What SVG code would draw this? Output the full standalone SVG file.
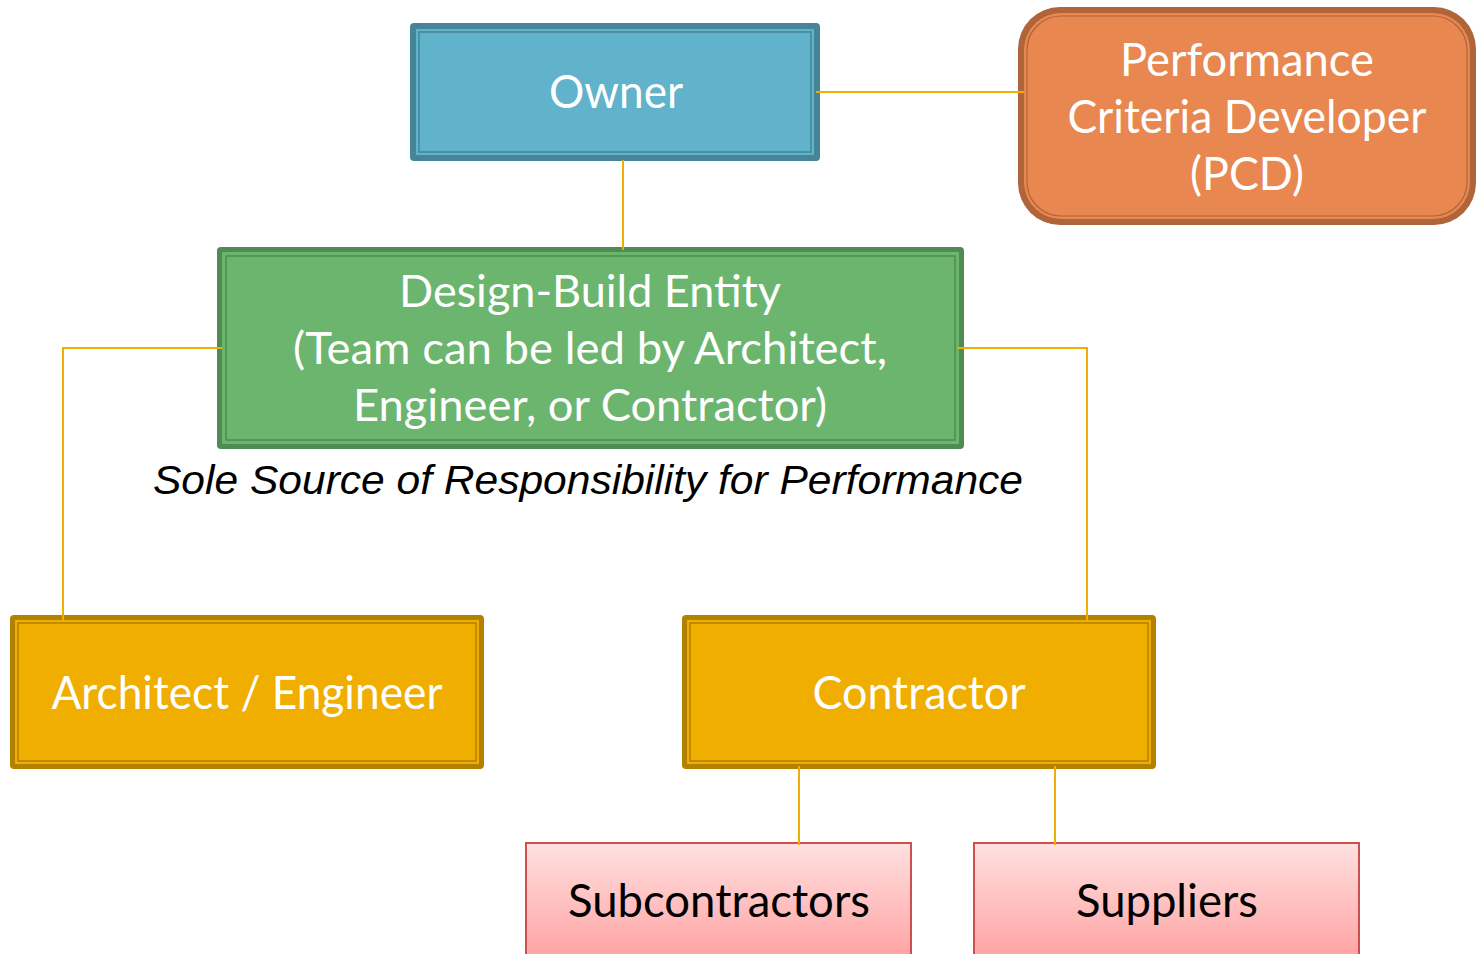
<svg xmlns="http://www.w3.org/2000/svg" width="1478" height="954" viewBox="0 0 1478 954">
<style>
.t{font-family:Lato,"Open Sans","Liberation Sans",sans-serif;fill:#fff;text-anchor:middle}
.k{font-family:Lato,"Open Sans","Liberation Sans",sans-serif;fill:#000;text-anchor:middle}
.c{fill:none;stroke:#EFAE00;stroke-width:2}
</style>
<defs>
<linearGradient id="pink" x1="0" y1="0" x2="0" y2="1">
<stop offset="0" stop-color="#FFE1E1"/>
<stop offset="1" stop-color="#FF9B9B"/>
</linearGradient>
</defs>
<rect width="1478" height="954" fill="#fff"/>
<g id="owner">
<rect x="410" y="23" width="410" height="138" rx="4" fill="#468597"/>
<rect x="416" y="29" width="398" height="126" fill="#61B3CC"/>
<rect x="419" y="32" width="392" height="120" fill="none" stroke="#468597" stroke-width="1.5"/>
<text class="t" x="616" y="108" font-size="46" textLength="134" lengthAdjust="spacingAndGlyphs">Owner</text>
</g>
<g id="pcd">
<rect x="1018" y="7" width="458" height="218" rx="42" fill="#B0643A"/>
<rect x="1024" y="13" width="446" height="206" rx="37" fill="#E8874F"/>
<rect x="1027" y="16" width="440" height="200" rx="34" fill="none" stroke="#B0643A" stroke-width="1.2"/>
<text class="t" x="1247" y="76" font-size="46" textLength="254" lengthAdjust="spacingAndGlyphs">Performance</text>
<text class="t" x="1247" y="133" font-size="46" textLength="359" lengthAdjust="spacingAndGlyphs">Criteria Developer</text>
<text class="t" x="1247" y="190" font-size="46" textLength="114" lengthAdjust="spacingAndGlyphs">(PCD)</text>
</g>
<g id="designbuild">
<rect x="217" y="247" width="747" height="202" rx="4" fill="#508B53"/>
<rect x="222" y="252" width="737" height="192" fill="#6BB56E"/>
<rect x="226" y="256" width="729" height="184" fill="none" stroke="#508B53" stroke-width="1.5"/>
<text class="t" x="590" y="307" font-size="44" textLength="382" lengthAdjust="spacingAndGlyphs">Design-Build Entity</text>
<text class="t" x="590" y="364" font-size="44" textLength="594" lengthAdjust="spacingAndGlyphs">(Team can be led by Architect,</text>
<text class="t" x="590" y="421" font-size="44" textLength="474" lengthAdjust="spacingAndGlyphs">Engineer, or Contractor)</text>
</g>
<g id="label">
<text x="588" y="494" font-family="'Liberation Sans',Arial,sans-serif" font-style="italic" font-size="40" text-anchor="middle" fill="#000" textLength="870" lengthAdjust="spacingAndGlyphs">Sole Source of Responsibility for Performance</text>
</g>
<g id="architect">
<rect x="10" y="615" width="474" height="154" rx="4" fill="#B38000"/>
<rect x="15" y="620" width="464" height="144" fill="#EFAE00"/>
<rect x="18" y="623" width="458" height="138" fill="none" stroke="#B38000" stroke-width="1.5"/>
<text class="t" x="247" y="709" font-size="46" textLength="391" lengthAdjust="spacingAndGlyphs">Architect / Engineer</text>
</g>
<g id="contractor">
<rect x="682" y="615" width="474" height="154" rx="4" fill="#B38000"/>
<rect x="687" y="620" width="464" height="144" fill="#EFAE00"/>
<rect x="690" y="623" width="458" height="138" fill="none" stroke="#B38000" stroke-width="1.5"/>
<text class="t" x="919" y="709" font-size="46" textLength="213" lengthAdjust="spacingAndGlyphs">Contractor</text>
</g>
<g id="subcontractors">
<rect x="526" y="843" width="385" height="130" fill="url(#pink)" stroke="#CD4F4F" stroke-width="2"/>
<text class="k" x="719" y="917" font-size="46" textLength="302" lengthAdjust="spacingAndGlyphs">Subcontractors</text>
</g>
<g id="suppliers">
<rect x="974" y="843" width="385" height="130" fill="url(#pink)" stroke="#CD4F4F" stroke-width="2"/>
<text class="k" x="1167" y="917" font-size="46" textLength="182" lengthAdjust="spacingAndGlyphs">Suppliers</text>
</g>
<g id="connectors">
<line class="c" x1="816" y1="92" x2="1024" y2="92"/>
<line class="c" x1="623" y1="160" x2="623" y2="250"/>
<polyline class="c" points="222,348 63,348 63,622"/>
<polyline class="c" points="958,348 1087,348 1087,620"/>
<line class="c" x1="799" y1="766" x2="799" y2="845"/>
<line class="c" x1="1055" y1="766" x2="1055" y2="845"/>
</g>
</svg>
